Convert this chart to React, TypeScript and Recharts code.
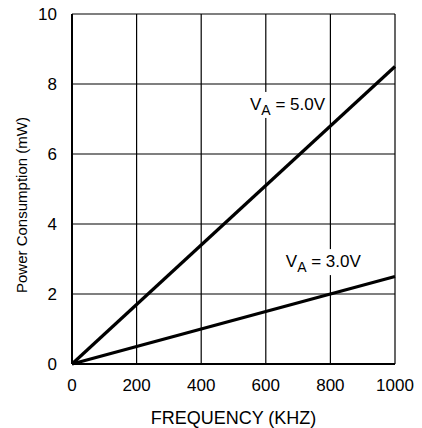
import { LineChart, Line, XAxis, YAxis, CartesianGrid, ReferenceDot } from 'recharts';

const frequency = [0, 1000];
const power5V = [0, 8.5];
const power3V = [0, 2.5];
const xTicks = [0, 200, 400, 600, 800, 1000];
const yTicks = [0, 2, 4, 6, 8, 10];

const data = frequency.map((f, i) => ({ f, v5: power5V[i], v3: power3V[i] }));

const FONT = '"Liberation Sans", Arial, sans-serif';

function VoltLabel({ viewBox, volts, boxW }: any) {
  const x0 = viewBox.x + (viewBox.width || 0) / 2;
  const cy = viewBox.y + (viewBox.height || 0) / 2;
  return (
    <g>
      <rect x={x0 - 3} y={cy - 12} width={boxW} height={26} fill="#fff" />
      <text x={x0} y={cy + 6} fontSize={17} fontFamily={FONT} fill="#000">
        V
        <tspan fontSize={14} dy={5}>A</tspan>
        <tspan dy={-5}>{` = ${volts}`}</tspan>
      </text>
    </g>
  );
}

export default function App() {
  return (
    <div style={{ position: 'absolute', left: 0, top: 0, width: 422, height: 428, background: '#fff' }}>
      <LineChart width={422} height={428} data={data} margin={{ top: 14, right: 27, left: 0, bottom: 0 }}>
        <CartesianGrid stroke="#000" strokeWidth={1.2} horizontalValues={yTicks} verticalValues={xTicks} />
        <XAxis
          dataKey="f"
          type="number"
          domain={[0, 1000]}
          ticks={xTicks}
          height={64}
          tickLine={false}
          tickMargin={9}
          axisLine={{ stroke: '#000', strokeWidth: 2 }}
          tick={{ fill: '#000', fontSize: 17, fontFamily: FONT }}
          label={{ value: 'FREQUENCY (KHZ)', position: 'insideBottom', offset: 4, fill: '#000', fontSize: 18, fontFamily: FONT }}
        />
        <YAxis
          type="number"
          domain={[0, 10]}
          ticks={yTicks}
          width={72}
          tickLine={false}
          tickMargin={9}
          axisLine={{ stroke: '#000', strokeWidth: 2 }}
          tick={{ fill: '#000', fontSize: 17, fontFamily: FONT }}
          label={{ value: 'Power Consumption (mW)', angle: -90, position: 'insideLeft', offset: 22, dy: 104, fill: '#000', fontSize: 15, fontFamily: FONT }}
        />
        <Line dataKey="v5" stroke="#000" strokeWidth={3.2} dot={false} isAnimationActive={false} />
        <Line dataKey="v3" stroke="#000" strokeWidth={3.2} dot={false} isAnimationActive={false} />
        <ReferenceDot x={551} y={7.43} r={0} ifOverflow="visible" label={(p: any) => <VoltLabel {...p} volts="5.0V" boxW={78} />} />
        <ReferenceDot x={662} y={2.94} r={0} ifOverflow="visible" label={(p: any) => <VoltLabel {...p} volts="3.0V" boxW={82} />} />
      </LineChart>
    </div>
  );
}
